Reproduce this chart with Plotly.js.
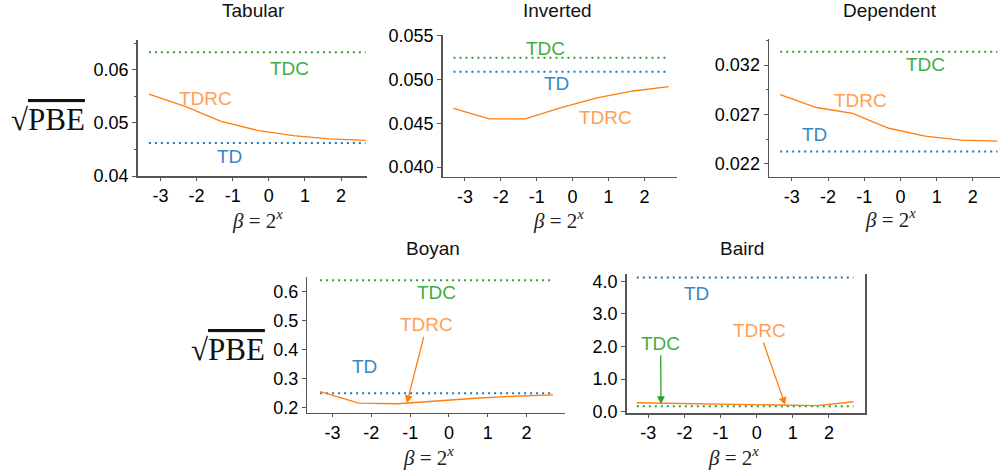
<!DOCTYPE html>
<html><head><meta charset="utf-8">
<script src="https://cdn.plot.ly/plotly-3.0.1.min.js"></script>
<style>html,body{margin:0;padding:0;background:#fff}#chart{width:1000px;height:471px}</style>
</head><body><div id="chart"></div>
<script>
// ---- data ----
const panelNames = ["Tabular", "Inverted", "Dependent", "Boyan", "Baird"];
const xBeta = [-3.32, -2.32, -1.32, -0.32, 0.68, 1.68, 2.68];
const xTickVals = [-3, -2, -1, 0, 1, 2];
const xTickText = ["-3", "-2", "-1", "0", "1", "2"];

const tabularTDRC = [0.0554, 0.0531, 0.0503, 0.0486, 0.0476, 0.0470, 0.0467];
const tabularTD = 0.0462;
const tabularTDC = 0.0633;
const tabularYTicks = [0.04, 0.05, 0.06];

const invertedTDRC = [0.0467, 0.0455, 0.0455, 0.0468, 0.0479, 0.0487, 0.0492];
const invertedTD = 0.0509;
const invertedTDC = 0.0525;
const invertedYTicks = [0.040, 0.045, 0.050, 0.055];

const dependentTDRC = [0.0290, 0.0277, 0.0271, 0.0256, 0.0248, 0.0244, 0.0243];
const dependentTD = 0.02325;
const dependentTDC = 0.03335;
const dependentYTicks = [0.022, 0.027, 0.032];

const boyanTDRC = [0.254, 0.214, 0.212, 0.222, 0.231, 0.238, 0.243];
const boyanTD = 0.248;
const boyanTDC = 0.640;
const boyanYTicks = [0.2, 0.3, 0.4, 0.5, 0.6];

const bairdTDRC = [0.27, 0.25, 0.23, 0.20, 0.18, 0.18, 0.30];
const bairdTD = 4.12;
const bairdTDC = 0.16;
const bairdYTicks = [0.0, 1.0, 2.0, 3.0, 4.0];

// ---- styling / layout ----
const C_TD = "#1f77b4", C_TDC = "#2ca02c", C_TDRC = "#ff7f0e";
const T_TD = "#3a86c4", T_TDC = "#3fae3f", T_TDRC = "#ff9f55";
const SANS = "Liberation Sans, Arial, sans-serif";
const SERIF = "Liberation Serif, DejaVu Serif, serif";
const W = 1000, H = 471;
const px = v => v / W, py = v => 1 - v / H;

const panels = [
  {name: panelNames[0], tdrc: tabularTDRC, td: tabularTD, tdc: tabularTDC, yt: tabularYTicks, fmt: ".2f",
   xd: [137.7, 367], yd: [40, 176], xr: [-3.63, 2.72], yr: [0.04, 0.0656], minor: [0.045, 0.055, 0.065], mirror: false},
  {name: panelNames[1], tdrc: invertedTDRC, td: invertedTD, tdc: invertedTDC, yt: invertedYTicks, fmt: ".3f",
   xd: [442.7, 676.7], yd: [35, 176.7], xr: [-3.62, 2.9], yr: [0.0389, 0.0551], minor: [], mirror: false},
  {name: panelNames[2], tdrc: dependentTDRC, td: dependentTD, tdc: dependentTDC, yt: dependentYTicks, fmt: ".3f",
   xd: [769, 1000], yd: [39.3, 176.7], xr: [-3.63, 2.75], yr: [0.0207, 0.0346], minor: [0.0245, 0.0295, 0.0345], mirror: false},
  {name: panelNames[3], tdrc: boyanTDRC, td: boyanTD, tdc: boyanTDC, yt: boyanYTicks, fmt: ".1f",
   xd: [307.3, 565], yd: [277.3, 412.7], xr: [-3.65, 2.99], yr: [0.181, 0.65], minor: [], mirror: false},
  {name: panelNames[4], tdrc: bairdTDRC, td: bairdTD, tdc: bairdTDC, yt: bairdYTicks, fmt: ".1f",
   xd: [626.7, 865], yd: [274, 413.3], xr: [-3.6, 3.0], yr: [-0.055, 4.23], minor: [], mirror: true}
];

const traces = [];
const layout = {
  width: W, height: H, margin: {l: 0, r: 0, t: 0, b: 0},
  paper_bgcolor: "#fff", plot_bgcolor: "#fff", showlegend: false,
  annotations: []
};

const dotDash = "2px,4px";
panels.forEach((p, i) => {
  const k = i === 0 ? "" : String(i + 1);
  const xa = "x" + k, ya = "y" + k;
  const xEnds = [xBeta[0], xBeta[xBeta.length - 1]];
  traces.push({x: xEnds, y: [p.tdc, p.tdc], xaxis: xa, yaxis: ya, mode: "lines",
    line: {color: C_TDC, width: 2, dash: dotDash}, hoverinfo: "skip"});
  traces.push({x: xEnds, y: [p.td, p.td], xaxis: xa, yaxis: ya, mode: "lines",
    line: {color: C_TD, width: 2, dash: dotDash}, hoverinfo: "skip"});
  traces.push({x: xBeta, y: p.tdrc, xaxis: xa, yaxis: ya, mode: "lines",
    line: {color: C_TDRC, width: 1.3}, hoverinfo: "skip"});

  layout["xaxis" + k] = {
    domain: [px(p.xd[0]), px(p.xd[1])], range: p.xr, anchor: ya,
    tickmode: "array", tickvals: xTickVals, ticktext: xTickText,
    ticks: "outside", ticklen: 3, tickwidth: 1, tickcolor: "#555",
    showline: true, linecolor: "#555", linewidth: 1.5,
    showgrid: false, zeroline: false,
    tickfont: {family: SANS, size: 18, color: "#000"}, fixedrange: true
  };
  const yax = {
    domain: [py(p.yd[1]), py(p.yd[0])], range: p.yr, anchor: xa,
    tickmode: "array", tickvals: p.yt, tickformat: p.fmt,
    ticks: "outside", ticklen: 4, tickwidth: 1, tickcolor: "#555",
    showline: true, linecolor: "#555", linewidth: 1.5, mirror: p.mirror,
    showgrid: false, zeroline: false,
    tickfont: {family: SANS, size: 18, color: "#000"}, fixedrange: true
  };
  if (p.minor.length) yax.minor = {tickmode: "array", tickvals: p.minor, ticks: "outside", ticklen: 2, tickcolor: "#555", showgrid: false};
  layout["yaxis" + k] = yax;
});

// Titles and axis labels
const titlePos = [[253, 11], [557, 11], [890, 11], [433, 248], [742, 248]];
const xlabPos = [[257, 219], [558, 219], [890, 218], [428, 456], [733, 456]];
panels.forEach((p, i) => {
  layout.annotations.push({xref: "paper", yref: "paper", x: px(titlePos[i][0]), y: py(titlePos[i][1]),
    xanchor: "center", yanchor: "middle", showarrow: false, text: p.name,
    font: {family: SANS, size: 19, color: "#111"}});
  layout.annotations.push({xref: "paper", yref: "paper", x: px(xlabPos[i][0]), y: py(xlabPos[i][1]),
    xanchor: "center", yanchor: "middle", showarrow: false,
    text: "<i>β</i> = 2<sup><i>x</i></sup>",
    font: {family: SERIF, size: 21, color: "#222"}});
});
[[48, 120], [228, 349]].forEach(pt => {
  layout.annotations.push({xref: "paper", yref: "paper", x: px(pt[0]), y: py(pt[1]),
    xanchor: "center", yanchor: "middle", showarrow: false,
    text: "√<span style='text-decoration:overline'>PBE</span>",
    font: {family: SERIF, size: 31, color: "#111"}});
});

// Series labels
function lab(k, x, y, text, color, arrow) {
  const a = {xref: "x" + k, yref: "y" + k, x: x, y: y, text: text, showarrow: false,
    xanchor: "center", yanchor: "middle", font: {family: SANS, size: 19, color: color}};
  if (arrow) {
    a.showarrow = true; a.axref = "x" + k; a.ayref = "y" + k;
    a.x = arrow[0]; a.y = arrow[1]; a.ax = x; a.ay = y;
    a.arrowhead = 2; a.arrowsize = 1.2; a.arrowwidth = 1.3; a.arrowcolor = arrow[2];
    a.standoff = 0;
  }
  layout.annotations.push(a);
}
lab("", 0.56, 0.0602, "TDC", T_TDC);
lab("", -1.75, 0.0546, "TDRC", T_TDRC);
lab("", -1.1, 0.0436, "TD", T_TD);
lab("2", -0.75, 0.0536, "TDC", T_TDC);
lab("2", -0.45, 0.0495, "TD", T_TD);
lab("2", 0.92, 0.0457, "TDRC", T_TDRC);
lab("3", 0.68, 0.0320, "TDC", T_TDC);
lab("3", -1.1, 0.02837, "TDRC", T_TDRC);
lab("3", -2.38, 0.0250, "TD", T_TD);
lab("4", -0.31, 0.597, "TDC", T_TDC);
lab("4", -2.17, 0.34, "TD", T_TD);
lab("4", -0.57, 0.485, "TDRC", T_TDRC, [-1.085, 0.214, C_TDRC]);
lab("5", -1.675, 3.62, "TD", T_TD);
lab("5", -2.66, 2.1, "TDC", T_TDC, [-2.65, 0.23, C_TDC]);
lab("5", 0.07, 2.49, "TDRC", T_TDRC, [0.79, 0.2, C_TDRC]);

Plotly.newPlot("chart", traces, layout, {staticPlot: true, displayModeBar: false});
</script></body></html>
